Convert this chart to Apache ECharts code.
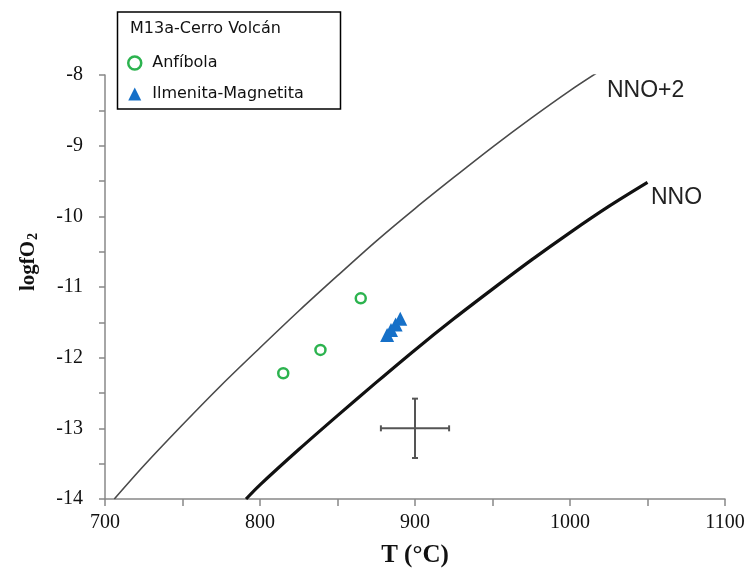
<!DOCTYPE html>
<html><head><meta charset="utf-8">
<script src="https://cdn.jsdelivr.net/npm/echarts@6/dist/echarts.min.js"></script>
<style>html,body{margin:0;padding:0;background:#fff}#c{width:751px;height:578px}</style>
</head><body><div id="c"></div>
<script>
// ---- data ----
const legendTitle = 'M13a-Cerro Volcán';
const anfibolaT = [815, 839, 865];
const anfibolaLogfO2 = [-12.22, -11.89, -11.16];
const ilmMagT = [882, 884.5, 887.5, 890.5];
const ilmMagLogfO2 = [-11.68, -11.61, -11.53, -11.45];
const nnoT = [791, 800, 825, 850, 875, 900, 925, 950, 975, 1000, 1025, 1050];
const nnoLogfO2 = [-14.0, -13.80, -13.30, -12.82, -12.35, -11.89, -11.45, -11.03, -10.62, -10.23, -9.86, -9.52];
const nno2T = [706, 725, 750, 775, 800, 825, 850, 875, 900, 925, 950, 975, 1000, 1018];
const nno2LogfO2 = [-14.0, -13.53, -12.95, -12.39, -11.86, -11.34, -10.84, -10.35, -9.89, -9.45, -9.02, -8.61, -8.22, -7.96];
const errorCross = [[900, -13.0, 22, 0.42]]; // [T, logfO2, ±T, ±logfO2]
const xTickLabels = [700, 800, 900, 1000, 1100];
const yTickLabels = [-14, -13, -12, -11, -10, -9, -8];

const zip = (a, b) => a.map((v, i) => [v, b[i]]);
const green = '#2cb34f', blue = '#1670c8';
const serif = "'Liberation Serif', 'Times New Roman', serif";
const sans = "'DejaVu Sans', sans-serif";

const chart = echarts.init(document.getElementById('c'), null, {renderer: 'canvas'});
chart.setOption({
  animation: false,
  backgroundColor: '#fff',
  grid: {left: 105, right: 26, top: 75, bottom: 79, containLabel: false, outerBoundsMode: 'none'},
  title: {
    text: legendTitle, left: 130, top: 21, padding: 0,
    textStyle: {fontFamily: sans, fontSize: 16, fontWeight: 'normal', color: '#111'}
  },
  legend: {
    orient: 'vertical', left: 127, top: 55, padding: 0, itemGap: 15,
    itemWidth: 13, itemHeight: 13,
    textStyle: {fontFamily: sans, fontSize: 16, color: '#111', padding: [0, 0, 0, 6]},
    data: [
      {name: 'Anfíbola', icon: 'circle', itemStyle: {color: '#fff', borderColor: green, borderWidth: 2.5, opacity: 1}},
      {name: 'Ilmenita-Magnetita', icon: 'triangle', itemStyle: {color: blue, borderWidth: 0, opacity: 1}}
    ]
  },
  xAxis: {
    type: 'value', min: 700, max: 1100, interval: 50,
    name: 'T (°C)', nameLocation: 'middle', nameGap: 44,
    nameTextStyle: {fontFamily: serif, fontSize: 25, fontWeight: 'bold', color: '#111'},
    axisLine: {onZero: false, lineStyle: {color: '#888', width: 1.5}},
    axisTick: {show: true, inside: false, length: 7, lineStyle: {color: '#888', width: 1.5}},
    axisLabel: {
      margin: 14, fontFamily: serif, fontSize: 20, color: '#111',
      formatter: v => xTickLabels.includes(v) ? String(v) : ''
    },
    splitLine: {show: false}
  },
  yAxis: {
    type: 'value', min: -14, max: -8, interval: 0.5,
    axisLine: {onZero: false, lineStyle: {color: '#888', width: 1.5}},
    axisTick: {show: true, inside: false, length: 6, lineStyle: {color: '#888', width: 1.5}},
    axisLabel: {
      margin: 22, fontFamily: serif, fontSize: 20, color: '#111',
      formatter: v => yTickLabels.includes(v) ? String(v) : ''
    },
    splitLine: {show: false}
  },
  graphic: [
    {type: 'rect', shape: {x: 117.5, y: 12, width: 223, height: 97}, style: {fill: 'none', stroke: '#000', lineWidth: 1.5}, z: 10},
    {type: 'text', x: 607, y: 91, style: {text: 'NNO+2', font: "23px 'Liberation Sans', Arial, sans-serif", fill: '#222', verticalAlign: 'middle', align: 'left'}},
    {type: 'text', x: 651, y: 198, style: {text: 'NNO', font: "23px 'Liberation Sans', Arial, sans-serif", fill: '#222', verticalAlign: 'middle', align: 'left'}},
    {type: 'text', x: 29, y: 262, rotation: Math.PI / 2,
      style: {
        text: '{b|logfO}{s|2}', align: 'center', verticalAlign: 'middle',
        rich: {
          b: {fontFamily: serif, fontSize: 21, fontWeight: 'bold', fill: '#111', lineHeight: 24},
          s: {fontFamily: serif, fontSize: 14, fontWeight: 'bold', fill: '#111', padding: [9, 0, 0, 1], lineHeight: 24}
        }
      }}
  ],
  series: [
    {
      name: 'NNO+2', type: 'line', data: zip(nno2T, nno2LogfO2), showSymbol: false, smooth: 0.3,
      lineStyle: {color: '#4a4a4a', width: 1.6}, silent: true, z: 2
    },
    {
      name: 'NNO', type: 'line', data: zip(nnoT, nnoLogfO2), showSymbol: false, smooth: 0.3,
      lineStyle: {color: '#111', width: 3.2}, silent: true, z: 2
    },
    {
      name: 'Anfíbola', type: 'scatter', data: zip(anfibolaT, anfibolaLogfO2),
      symbol: 'circle', symbolSize: 10,
      itemStyle: {color: '#fff', borderColor: green, borderWidth: 2.5, opacity: 1}, z: 4
    },
    {
      name: 'Ilmenita-Magnetita', type: 'scatter', data: zip(ilmMagT, ilmMagLogfO2),
      symbol: 'triangle', symbolSize: 14,
      itemStyle: {color: blue, opacity: 1}, z: 4
    },
    {
      name: 'error', type: 'custom', data: errorCross, z: 3, silent: true,
      renderItem: function (params, api) {
        const x = api.value(0), y = api.value(1), dx = api.value(2), dy = api.value(3);
        const l = api.coord([x - dx, y]), r = api.coord([x + dx, y]);
        const t = api.coord([x, y + dy]), b = api.coord([x, y - dy]);
        const st = {stroke: '#555', lineWidth: 2};
        const cap = 3;
        return {type: 'group', children: [
          {type: 'line', shape: {x1: l[0], y1: l[1], x2: r[0], y2: r[1]}, style: st},
          {type: 'line', shape: {x1: t[0], y1: t[1], x2: b[0], y2: b[1]}, style: st},
          {type: 'line', shape: {x1: l[0], y1: l[1] - cap, x2: l[0], y2: l[1] + cap}, style: st},
          {type: 'line', shape: {x1: r[0], y1: r[1] - cap, x2: r[0], y2: r[1] + cap}, style: st},
          {type: 'line', shape: {x1: t[0] - cap, y1: t[1], x2: t[0] + cap, y2: t[1]}, style: st},
          {type: 'line', shape: {x1: b[0] - cap, y1: b[1], x2: b[0] + cap, y2: b[1]}, style: st}
        ]};
      }
    }
  ]
});
</script>
</body></html>
